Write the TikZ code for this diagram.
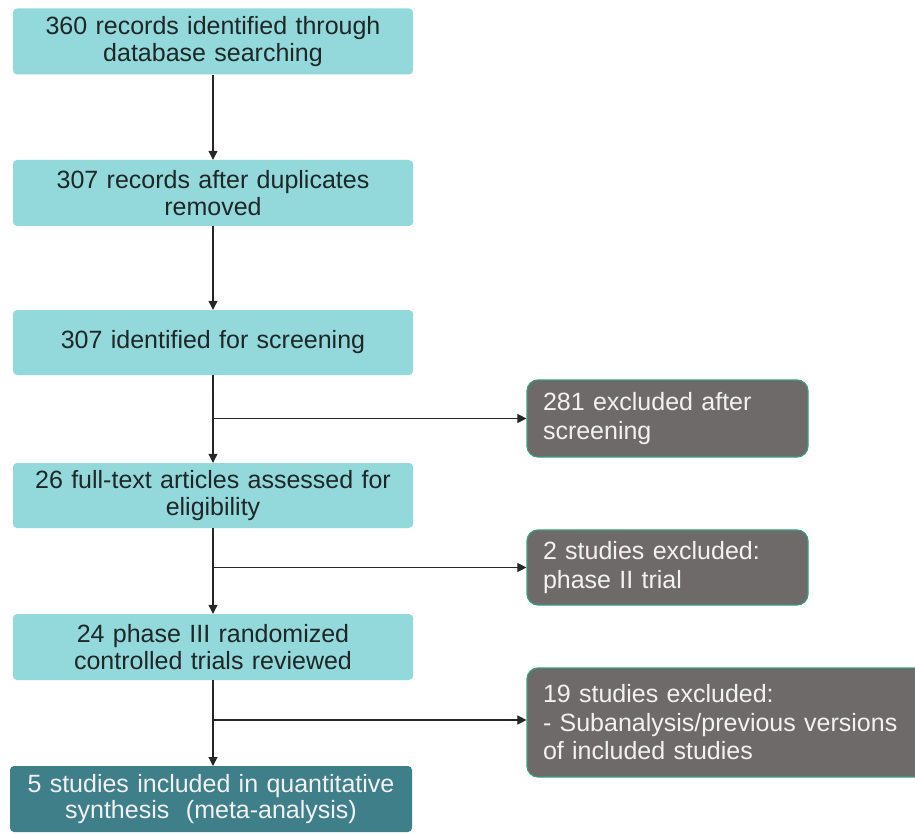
\documentclass[tikz,border=0pt]{standalone}
\usepackage{fontspec}
\setmainfont{Liberation Sans}
\usetikzlibrary{arrows.meta}
\definecolor{cyanbox}{HTML}{93D9DC}
\definecolor{tealbox}{HTML}{3F7F8A}
\definecolor{graybox}{HTML}{6E6A6A}
\definecolor{grayedge}{HTML}{3E9A7E}
\definecolor{darktext}{HTML}{1E2626}
\definecolor{lighttext}{HTML}{F2F2F2}
\tikzset{
  mainbox/.style={fill=cyanbox, draw=none, rounded corners=4pt, minimum width=400pt, minimum height=66pt, text width=390pt, align=center, text=darktext, font=\fontsize{25}{26.5}\selectfont, inner sep=0pt},
  finalbox/.style={mainbox, fill=tealbox, text=lighttext, minimum width=402pt},
  exbox/.style={fill=graybox, draw=grayedge, line width=1.2pt, rounded corners=11pt, minimum height=75pt, align=left, text=lighttext, font=\fontsize{25}{28.5}\selectfont, inner xsep=0pt, inner ysep=0pt},
  arr/.style={-{Triangle[length=9pt,width=9pt]}, line width=1.1pt, draw=black!85}
}
\begin{document}
\begin{tikzpicture}[x=1pt,y=-1pt]
\clip (0,0) rectangle (915,834);
\useasboundingbox (0,0) rectangle (915,834);
\fill[white] (0,0) rectangle (915,834);
\node[mainbox] (b1) at (213,41.5) {360 records identified through\\database searching};
\node[mainbox] (b2) at (213,193) {307 records after duplicates\\removed};
\node[mainbox, minimum height=65pt] (b3) at (213,342.5) {307 identified for screening};
\node[mainbox, minimum height=65pt] (b4) at (213,495.5) {26 full-text articles assessed for\\eligibility};
\node[mainbox] (b5) at (213,647) {24 phase III randomized\\controlled trials reviewed};
\node[finalbox] (b6) at (211,799) {5 studies included in quantitative\\synthesis\ \ (meta-analysis)};

\node[exbox, minimum width=281pt, text width=249pt, minimum height=77pt] (e1) at (667.5,418.5) {281 excluded after\\screening};
\node[exbox, minimum width=281pt, text width=249pt] (e2) at (667.5,567.5) {2 studies excluded:\\phase II trial};
\node[exbox, minimum width=410pt, text width=378pt, minimum height=109pt] (e3) at (732,722.5) {19 studies excluded:\\- Subanalysis/previous versions\\of included studies};

\draw[arr] (b1.south) -- (b2.north);
\draw[arr] (b2.south) -- (b3.north);
\draw[arr] (b3.south) -- (b4.north);
\draw[arr] (b4.south) -- (b5.north);
\draw[arr] (b5.south -| 213,0) -- (213,766);

\coordinate (j1) at (b3.south |- e1.west);
\coordinate (j2) at (b4.south |- e2.west);
\coordinate (j3) at (213,720);
\draw[arr] (j1) -- (e1.west);
\draw[arr] (j2) -- (e2.west);
\draw[arr] (j3) -- (e3.west |- j3);
\end{tikzpicture}
\end{document}
